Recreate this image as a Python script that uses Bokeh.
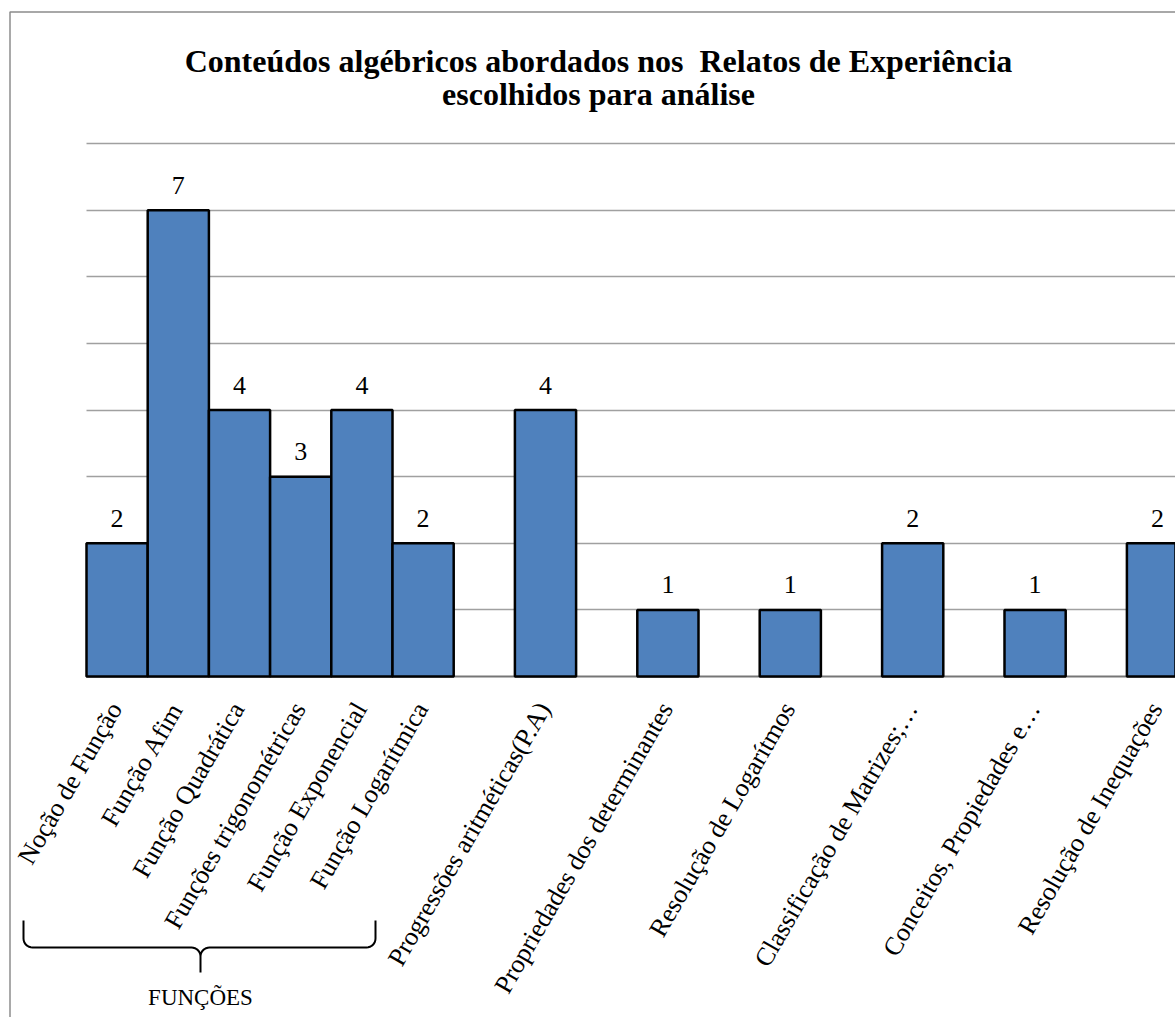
import math

from bokeh.core.properties import value
from bokeh.embed import file_html
from bokeh.models import ColumnDataSource, FixedTicker, Grid, Range1d
from bokeh.plotting import figure
from bokeh.resources import INLINE

# ---- data -------------------------------------------------------------------
# Empty names are spacer slots between the groups of topics.
categories = [
    "Noção de Função", "Função Afim", "Função Quadrática",
    "Funções trigonométricas", "Função Exponencial", "Função Logarítmica",
    "", "Progressões aritméticas(P.A)",
    "", "Propriedades dos determinantes",
    "", "Resolução de Logarítmos",
    "", "Classificação de Matrizes;…",
    "", "Conceitos, Propiedades e…",
    "", "Resolução de Inequações",
]
counts = [2, 7, 4, 3, 4, 2, None, 4, None, 1, None, 1, None, 2, None, 1, None, 2]
y_ticks = [0, 1, 2, 3, 4, 5, 6, 7, 8]

title_lines = ["Conteúdos algébricos abordados nos\u00a0 Relatos de Experiência",
               "escolhidos para análise"]
group_name = "FUNÇÕES"
group_size = 6

# ---- layout (pixels) ----------------------------------------------------------
# The plotting frame spans the whole canvas; pixel positions of the chart
# elements are turned into data units with dx / dy.
W, H = 1175, 1017
PLOT_L, AXIS_PX = 86, 676
SLOT_PX, UNIT_PX = 61.2, 66.6


def dx(px):
    return (px - PLOT_L) / SLOT_PX


def dy(py):
    return (AXIS_PX - py) / UNIT_PX


SERIF = "Liberation Serif"
LABEL_ANGLE = 60
x_end = dx(W)

p = figure(width=W, height=H, output_backend="svg", toolbar_location=None,
           x_range=Range1d(dx(0), x_end), y_range=Range1d(dy(H), dy(0)),
           min_border=0)
p.background_fill_color = "white"
p.border_fill_color = "white"
p.outline_line_color = None
p.xaxis.visible = False
p.yaxis.visible = False
p.xgrid.grid_line_color = None

# horizontal gridlines over the plot area only
p.ygrid.ticker = FixedTicker(ticks=y_ticks[1:])
p.ygrid.grid_line_color = "#a0a0a0"
p.ygrid.grid_line_width = 1.5
p.ygrid.cross_bounds = (0, x_end)

# category axis line
p.add_layout(Grid(dimension=1, ticker=FixedTicker(ticks=y_ticks[:1]),
                  grid_line_color="#767676", grid_line_width=2,
                  cross_bounds=(0, x_end)))

# ---- bars -----------------------------------------------------------------
xs, tops, names = [], [], []
for i, (name, c) in enumerate(zip(categories, counts)):
    if c is None:
        continue
    xs.append(i + 0.5)
    tops.append(c)
    names.append(name)

src = ColumnDataSource(dict(
    x=xs, top=tops, name=names, txt=[str(t) for t in tops],
    vy=[t + 25 / UNIT_PX for t in tops],
    lx=[x - 1.5 / SLOT_PX for x in xs],
    ly=[-28 / UNIT_PX] * len(xs),
))

p.vbar(x="x", top="top", bottom=0, width=1.0, source=src,
       fill_color="#4f81bd", line_color="black", line_width=2.5)

# value labels
p.text(x="x", y="vy", text="txt", source=src,
       text_align="center", text_baseline="alphabetic",
       text_font=value(SERIF), text_font_size=value("26px"),
       text_color="black")

# rotated category labels
p.text(x="lx", y="ly", text="name", source=src,
       angle=math.radians(LABEL_ANGLE), text_align="right",
       text_baseline="alphabetic",
       text_font=value(SERIF), text_font_size=value("26px"),
       text_color="black")

# ---- title --------------------------------------------------------------------
p.text(x=[dx(598)] * 2, y=[dy(60), dy(93)], text=title_lines,
       text_align="center", text_baseline="alphabetic",
       text_font=value(SERIF), text_font_style="bold",
       text_font_size=value("32px"), text_color="black")

# ---- brace under the function group --------------------------------------------
def arc(cx, cy, r, a0, a1, n=8):
    return [(cx + r * math.cos(math.radians(a0 + (a1 - a0) * k / n)),
             cy + r * math.sin(math.radians(a0 + (a1 - a0) * k / n)))
            for k in range(n + 1)]


left_px = 23
right_px = 375
mid_px = (left_px + right_px) / 2 + 1
top_px, line_px, tip_px, r = 920, 947, 972, 9

path = [(left_px, top_px)]
path += arc(left_px + r, line_px - r, r, 180, 90)
path += arc(mid_px - r, line_px + r, r, 270, 360)
path += [(mid_px, tip_px)]
path += arc(mid_px + r, line_px + r, r, 180, 270)
path += arc(right_px - r, line_px - r, r, 90, 0)
path += [(right_px, top_px)]

p.line(x=[dx(a) for a, _ in path], y=[dy(b) for _, b in path],
       line_color="black", line_width=2)

p.text(x=[dx(mid_px)], y=[dy(997)], text=[group_name],
       text_align="center", text_baseline="alphabetic",
       text_font=value(SERIF), text_font_size=value("23px"),
       text_color="black")

# ---- chart border -------------------------------------------------------------
p.line(x=[dx(9.5), dx(9.5), dx(W + 30)], y=[dy(H + 30), dy(11.5), dy(11.5)],
       line_color="#8c8c8c", line_width=1.5)

open("out.html", "w").write(file_html(p, INLINE))
